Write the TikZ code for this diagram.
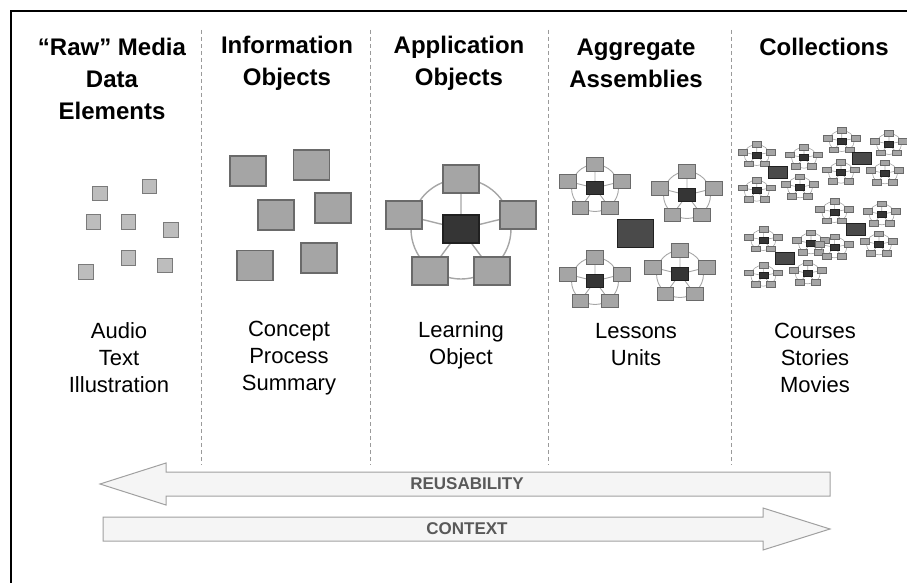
\documentclass[tikz,border=0pt]{standalone}
\usepackage{fontspec}
\setmainfont{Liberation Sans}
\definecolor{rawfill}{HTML}{BDBDBD}
\definecolor{rawdraw}{HTML}{7A7A7A}
\definecolor{objfill}{HTML}{A5A5A5}
\definecolor{objdraw}{HTML}{6A6A6A}
\definecolor{darkfill}{HTML}{353535}
\definecolor{darkdraw}{HTML}{202020}
\definecolor{aggfill}{HTML}{4A4A4A}
\definecolor{ringcol}{HTML}{A6A6A6}
\definecolor{arrfill}{HTML}{F5F5F5}
\definecolor{arrdraw}{HTML}{A0A0A0}
\definecolor{arrtext}{HTML}{595959}
\definecolor{divcol}{HTML}{9A9A9A}
\tikzset{
  rawbox/.style={fill=rawfill,draw=rawdraw,line width=1.2pt},
  objbox/.style={fill=objfill,draw=objdraw,line width=1.2pt},
  header/.style={font=\fontsize{24}{32}\selectfont\bfseries,align=center,inner sep=0pt},
  body/.style={font=\fontsize{22}{27}\selectfont,align=center,inner sep=0pt},
  arrlabel/.style={font=\fontsize{17}{20}\selectfont\bfseries,text=arrtext,inner sep=0pt},
  divider/.style={draw=divcol,line width=1pt,dash pattern=on 4pt off 3pt},
  bigarrow/.style={fill=arrfill,draw=arrdraw,line width=1pt},
}
% module: center x, center y, xscale, yscale, line width
\newcommand\drawmodule[5]{%
  \begin{scope}[shift={(#1,#2)},xscale=#3,yscale=#4,line width=#5]
    \draw[ringcol] (0,0) circle[radius=50];
    \draw[ringcol] (0,0) -- (0,-50) (0,0) -- (-57,-14) (0,0) -- (57,-14)
                   (0,0) -- (-31,42) (0,0) -- (31,42);
    \filldraw[fill=objfill,draw=objdraw] (-18,-64) rectangle (18,-36);
    \filldraw[fill=objfill,draw=objdraw] (-75,-28) rectangle (-39,0);
    \filldraw[fill=objfill,draw=objdraw] (39,-28) rectangle (75,0);
    \filldraw[fill=objfill,draw=objdraw] (-49,28) rectangle (-13,56);
    \filldraw[fill=objfill,draw=objdraw] (13,28) rectangle (49,56);
    \filldraw[fill=darkfill,draw=darkdraw] (-18,-14) rectangle (18,14);
  \end{scope}}
\begin{document}
\begin{tikzpicture}[x=1pt,y=-1pt]
\useasboundingbox (0,0) rectangle (907,583);
\begin{scope}
\clip (0,0) rectangle (907,583);
% frame
\draw[line width=2.5pt] (11,590) -- (11,11) -- (910,11);
% dividers
\foreach \xx in {201,370,548,731} \draw[divider] (\xx,30) -- (\xx,465);
% headers
\node[header] (h1) at (112,79) {“Raw” Media\\Data\\Elements};
\node[header] (h2) at (287,63.5) {Information\\Objects};
\node[header] (h3) at (459,63.5) {Application\\Objects};
\node[header] (h4) at (636,63.5) {Aggregate\\Assemblies};
\node[header] (h5) at (824,47) {Collections};
% raw media squares
\foreach \cx/\cy in {100/193.5,149.5/186.5,93.5/222,128.5/222,171/230,128.5/258,165/265.5,86/272}
  \filldraw[rawbox] (\cx-7.2,\cy-7.2) rectangle (\cx+7.2,\cy+7.2);
% information objects
\foreach \cx/\cy in {248/171,311.5/165,276/215,333/208,255/265.5,319/258}
  \filldraw[objbox] (\cx-18,\cy-15) rectangle (\cx+18,\cy+15);
% application object
\drawmodule{461}{229}{1}{1}{1.4pt}
% aggregate assemblies
\filldraw[fill=aggfill,draw=darkdraw,line width=1pt] (617,219.5) rectangle (653,247.5);
\drawmodule{595}{188}{0.47}{0.47}{0.9pt}
\drawmodule{687}{195}{0.47}{0.47}{0.9pt}
\drawmodule{595}{281}{0.47}{0.47}{0.9pt}
\drawmodule{680}{274}{0.47}{0.47}{0.9pt}
% collections
\foreach \cx/\cy in {756.7/155,804/157.7,841.7/141,889/144,841/172.7,885/173.3,
    756.7/190.7,800/187.3,834.3/212,881.7/214.3,763.3/240,811/243.3,834.3/247.3,
    879/244.3,763.3/275.7,807.7/273.3}
  {\drawmodule{\cx}{\cy}{0.25}{0.21}{0.6pt}}
\foreach \cx/\cy in {777.5/172.5,862/158,855.7/229.3,784.3/258.3}
  \filldraw[fill=aggfill,draw=darkdraw,line width=0.6pt] (\cx-9.5,\cy-6) rectangle (\cx+9.5,\cy+6);
% body texts
\node[body] (b1) at (119,358) {Audio\\Text\\Illustration};
\node[body] (b2) at (289,358) {Concept\\Process\\Summary};
\node[body] (b3) at (461,345) {Learning\\Object};
\node[body] (b4) at (636,345) {Lessons\\Units};
\node[body] (b5) at (815,358) {Courses\\Stories\\Movies};
% arrows
\filldraw[bigarrow] (100,484) -- (166,463) -- (166,472) -- (830,472) -- (830,496)
   -- (166,496) -- (166,505) -- cycle;
\node[arrlabel] (reuse) at (467,484) {REUSABILITY};
\filldraw[bigarrow] (103,517) -- (763,517) -- (763,508) -- (830,529) -- (763,550)
   -- (763,541) -- (103,541) -- cycle;
\node[arrlabel] (ctx) at (467,529) {CONTEXT};
\end{scope}
\end{tikzpicture}
\end{document}
